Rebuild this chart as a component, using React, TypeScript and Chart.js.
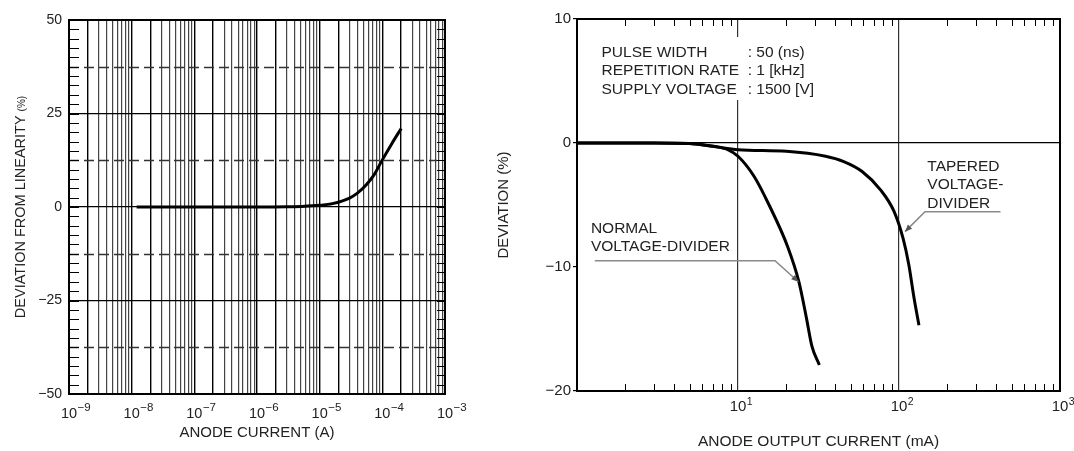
import React, { useEffect, useRef } from 'react';
import { Chart, registerables } from 'chart.js';

Chart.register(...registerables);

const FONT = "'Liberation Sans', Arial, Helvetica, sans-serif";
const TEXT = '#222';

// ---------- Left chart data ----------
const leftCurrentA = [1.2e-8, 1e-7, 1e-6, 3e-6, 5e-6, 1e-5, 1.6e-5, 3e-5, 4e-5, 5.6e-5, 7.5e-5, 9.7e-5, 1.4e-4, 2e-4];
const leftDeviationPct = [0, 0, 0, 0.05, 0.15, 0.45, 0.9, 2.4, 3.7, 6.0, 8.8, 12.2, 16.8, 21];
const leftYTicks = [-50, -25, 0, 25, 50];
const leftDashedY = [-37.5, -12.5, 12.5, 37.5];
const leftMinorYStep = 2.5;
const leftXMinExp = -9;
const leftXMaxExp = -3;

// ---------- Right chart data ----------
const normalCurrentMA = [1, 3, 5, 7, 8.7, 10, 12.6, 15.6, 20.4, 23.9, 26.6, 28.8, 32];
const normalDeviationPct = [0, 0, -0.05, -0.27, -0.55, -1.07, -2.7, -5.0, -8.4, -11.2, -14.1, -16.4, -17.9];
const taperedCurrentMA = [1, 3, 5, 7, 10, 20, 35, 45, 59, 77, 93, 106, 115, 124, 133];
const taperedDeviationPct = [0, 0, -0.05, -0.27, -0.54, -0.67, -1.07, -1.48, -2.3, -3.8, -5.5, -7.7, -9.8, -12.5, -14.7];
const rightYTicks = [-20, -10, 0, 10];
const rightXMinExp = 0;
const rightXMaxExp = 3;

const infoLabels = ['PULSE WIDTH', 'REPETITION RATE', 'SUPPLY VOLTAGE'];
const infoValues = ['50 (ns)', '1 [kHz]', '1500 [V]'];
const taperedLabel = ['TAPERED', 'VOLTAGE-', 'DIVIDER'];
const normalLabel = ['NORMAL', 'VOLTAGE-DIVIDER'];

// ---------- helpers ----------
const minus = (v: number) => String(v).replace('-', '\u2212');

function logTickValues(minExp: number, maxExp: number) {
  const out: number[] = [];
  for (let e = minExp; e < maxExp; e++) {
    for (let m = 1; m <= 9; m++) out.push(Number((m * Math.pow(10, e)).toPrecision(6)));
  }
  out.push(Math.pow(10, maxExp));
  return out;
}
function mantissa(v: number) {
  const e = Math.floor(Math.log10(v) + 1e-9);
  return { e, m: Math.round(v / Math.pow(10, e)) };
}

const leftXTicks = logTickValues(leftXMinExp, leftXMaxExp);
const rightXTicks = logTickValues(rightXMinExp, rightXMaxExp);

function drawFrame(chart: any) {
  const { ctx, chartArea: a } = chart;
  ctx.save();
  ctx.strokeStyle = '#000';
  ctx.lineWidth = 2;
  ctx.strokeRect(a.left, a.top, a.right - a.left, a.bottom - a.top);
  ctx.restore();
}

// decade labels "10" with a raised exponent, placed by the x scale
function drawDecadeLabels(
  chart: any,
  skipFirst: boolean,
  baseSize: number,
  expSize: number,
  baseY: number,
  expY: number,
) {
  const { ctx, scales } = chart;
  const xs = scales.x;
  ctx.save();
  ctx.fillStyle = TEXT;
  ctx.textBaseline = 'alphabetic';
  ctx.textAlign = 'left';
  xs.ticks.forEach((t: any, i: number) => {
    const { e, m } = mantissa(t.value);
    if (m !== 1) return;
    if (skipFirst && i === 0) return;
    const x = xs.getPixelForValue(t.value);
    ctx.font = `${baseSize}px ${FONT}`;
    const wb = ctx.measureText('10').width;
    const x0 = x - wb / 2;
    ctx.fillText('10', x0, xs.top + baseY);
    ctx.font = `${expSize}px ${FONT}`;
    ctx.fillText(minus(e), x0 + wb + 0.5, xs.top + expY);
  });
  ctx.restore();
}

const leftPlugin = {
  id: 'leftDecor',
  beforeDatasetsDraw(chart: any) {
    const { ctx, chartArea: a, scales } = chart;
    const y = scales.y;
    ctx.save();
    ctx.strokeStyle = '#333';
    ctx.lineWidth = 1.4;
    ctx.setLineDash([10, 5]);
    leftDashedY.forEach((v) => {
      const p = Math.round(y.getPixelForValue(v)) + 0.5;
      ctx.beginPath();
      ctx.moveTo(a.left, p);
      ctx.lineTo(a.right - 8, p);
      ctx.stroke();
    });
    ctx.setLineDash([]);
    ctx.strokeStyle = '#000';
    ctx.lineWidth = 1;
    for (let v = y.min; v <= y.max + 1e-9; v += leftMinorYStep) {
      const p = Math.round(y.getPixelForValue(v)) + 0.5;
      ctx.beginPath();
      ctx.moveTo(a.left, p);
      ctx.lineTo(a.left + 10, p);
      ctx.moveTo(a.right - 8, p);
      ctx.lineTo(a.right, p);
      ctx.stroke();
    }
    ctx.restore();
  },
  afterDatasetsDraw(chart: any) {
    drawFrame(chart);
    drawDecadeLabels(chart, false, 14.5, 11.5, 24, 16.5);
    const { ctx, chartArea: a } = chart;
    ctx.save();
    const main = 'DEVIATION FROM LINEARITY ';
    const small = '(%)';
    ctx.font = `14.5px ${FONT}`;
    const w1 = ctx.measureText(main).width;
    ctx.font = `10px ${FONT}`;
    const w2 = ctx.measureText(small).width;
    const cy = (a.top + a.bottom) / 2;
    ctx.translate(25, cy + (w1 + w2) / 2);
    ctx.rotate(-Math.PI / 2);
    ctx.fillStyle = TEXT;
    ctx.textBaseline = 'alphabetic';
    ctx.textAlign = 'left';
    ctx.font = `14.5px ${FONT}`;
    ctx.fillText(main, 0, 0);
    ctx.font = `10px ${FONT}`;
    ctx.fillText(small, w1, 0);
    ctx.restore();
  },
};

function drawLeader(ctx: any, pts: [number, number][]) {
  ctx.save();
  ctx.strokeStyle = '#8a8a8a';
  ctx.lineWidth = 1.6;
  ctx.beginPath();
  pts.forEach(([x, y], i) => (i === 0 ? ctx.moveTo(x, y) : ctx.lineTo(x, y)));
  ctx.stroke();
  const [x1, y1] = pts[pts.length - 2];
  const [x2, y2] = pts[pts.length - 1];
  const ang = Math.atan2(y2 - y1, x2 - x1);
  const L = 7, W = 3;
  ctx.fillStyle = '#555';
  ctx.beginPath();
  ctx.moveTo(x2, y2);
  ctx.lineTo(x2 - L * Math.cos(ang) + W * Math.sin(ang), y2 - L * Math.sin(ang) - W * Math.cos(ang));
  ctx.lineTo(x2 - L * Math.cos(ang) - W * Math.sin(ang), y2 - L * Math.sin(ang) + W * Math.cos(ang));
  ctx.closePath();
  ctx.fill();
  ctx.restore();
}

const rightPlugin = {
  id: 'rightDecor',
  beforeDatasetsDraw(chart: any) {
    const { ctx, chartArea: a, scales } = chart;
    const xs = scales.x, ys = scales.y;
    ctx.save();
    // white box behind the conditions text (breaks the 10 mA grid line)
    ctx.fillStyle = '#fff';
    const bx1 = xs.getPixelForValue(1.31), bx2 = xs.getPixelForValue(31.4);
    const by1 = ys.getPixelForValue(8.55), by2 = ys.getPixelForValue(3.47);
    ctx.fillRect(bx1, by1, bx2 - bx1, by2 - by1);
    // minor inner ticks top & bottom
    ctx.strokeStyle = '#000';
    ctx.lineWidth = 1;
    rightXTicks.forEach((v) => {
      const { m } = mantissa(v);
      if (m === 1) return;
      const p = Math.round(xs.getPixelForValue(v)) + 0.5;
      ctx.beginPath();
      ctx.moveTo(p, a.top);
      ctx.lineTo(p, a.top + 7);
      ctx.moveTo(p, a.bottom);
      ctx.lineTo(p, a.bottom - 7);
      ctx.stroke();
    });
    ctx.restore();
  },
  afterDatasetsDraw(chart: any) {
    drawFrame(chart);
    drawDecadeLabels(chart, true, 15, 10.5, 20, 14);
    const { ctx, scales } = chart;
    const xs = scales.x, ys = scales.y;
    const P = (x: number, y: number): [number, number] => [xs.getPixelForValue(x), ys.getPixelForValue(y)];
    ctx.save();
    ctx.fillStyle = TEXT;
    ctx.textBaseline = 'middle';
    ctx.textAlign = 'left';
    ctx.font = `15.5px ${FONT}`;
    const infoY = [7.28, 5.83, 4.33];
    infoLabels.forEach((t, i) => {
      ctx.fillText(t, ...P(1.42, infoY[i]));
      ctx.fillText(': ' + infoValues[i], ...P(11.49, infoY[i]));
    });
    const tapY = [-1.91, -3.39, -4.86];
    taperedLabel.forEach((t, i) => ctx.fillText(t, ...P(150, tapY[i])));
    const norY = [-6.88, -8.36];
    normalLabel.forEach((t, i) => ctx.fillText(t, ...P(1.22, norY[i])));
    ctx.restore();
    drawLeader(ctx, [P(427, -5.54), P(145, -5.54), P(109, -7.15)]);
    drawLeader(ctx, [P(1.29, -9.49), P(16.98, -9.49), P(23.7, -11.19)]);
  },
};

const lineStyle = {
  borderColor: '#000',
  borderWidth: 3,
  pointRadius: 0,
  fill: false,
  tension: 0.4,
  cubicInterpolationMode: 'monotone' as const,
};

export default function App() {
  const leftRef = useRef<HTMLCanvasElement>(null);
  const rightRef = useRef<HTMLCanvasElement>(null);

  useEffect(() => {
    const left = new Chart(leftRef.current!, {
      type: 'line',
      data: {
        datasets: [
          { ...lineStyle, data: leftCurrentA.map((x, i) => ({ x, y: leftDeviationPct[i] })) },
        ],
      },
      options: {
        responsive: false,
        animation: false,
        layout: { padding: { left: 0, top: 20, right: 35, bottom: 0 } },
        plugins: { legend: { display: false }, tooltip: { enabled: false } },
        scales: {
          x: {
            type: 'logarithmic',
            min: Math.pow(10, leftXMinExp),
            max: Math.pow(10, leftXMaxExp),
            afterBuildTicks: (s: any) => { s.ticks = leftXTicks.map((value) => ({ value })); },
            afterFit: (s: any) => { s.height = 57; },
            grid: {
              drawTicks: false,
              lineWidth: (c: any) => {
                const v = c.tick && c.tick.value;
                if (!v) return 1.2;
                return mantissa(v).m <= 2 ? 1.4 : 1.2;
              },
              color: (c: any) => {
                const v = c.tick && c.tick.value;
                if (!v) return '#444';
                return mantissa(v).m <= 2 ? '#000' : '#444';
              },
            },
            border: { display: false },
            ticks: { display: false, autoSkip: false },
            title: {
              display: true,
              text: 'ANODE CURRENT (A)',
              color: TEXT,
              font: { family: FONT, size: 15 },
              padding: { top: 0, bottom: 9 },
            },
          },
          y: {
            type: 'linear',
            min: -50,
            max: 50,
            afterBuildTicks: (s: any) => { s.ticks = leftYTicks.map((value) => ({ value })); },
            afterFit: (s: any) => { s.width = 69; },
            grid: { drawTicks: false, color: '#000', lineWidth: 1.3 },
            border: { display: false },
            ticks: {
              padding: 7,
              color: TEXT,
              font: { family: FONT, size: 14 },
              callback: (v: any) => minus(Number(v)),
            },
          },
        },
      } as any,
      plugins: [leftPlugin],
    });

    const right = new Chart(rightRef.current!, {
      type: 'line',
      data: {
        datasets: [
          { ...lineStyle, data: normalCurrentMA.map((x, i) => ({ x, y: normalDeviationPct[i] })) },
          { ...lineStyle, data: taperedCurrentMA.map((x, i) => ({ x, y: taperedDeviationPct[i] })) },
        ],
      },
      options: {
        responsive: false,
        animation: false,
        layout: { padding: { left: 0, top: 19, right: 14, bottom: 0 } },
        plugins: { legend: { display: false }, tooltip: { enabled: false } },
        scales: {
          x: {
            type: 'logarithmic',
            min: Math.pow(10, rightXMinExp),
            max: Math.pow(10, rightXMaxExp),
            afterBuildTicks: (s: any) => { s.ticks = rightXTicks.map((value) => ({ value })); },
            afterFit: (s: any) => { s.height = 60; },
            grid: {
              drawTicks: false,
              lineWidth: 1.2,
              color: (c: any) => {
                const v = c.tick && c.tick.value;
                return v === 10 || v === 100 ? '#333' : 'rgba(0,0,0,0)';
              },
            },
            border: { display: false },
            ticks: { display: false, autoSkip: false },
            title: {
              display: true,
              text: 'ANODE OUTPUT CURRENT (mA)',
              color: TEXT,
              font: { family: FONT, size: 15.5 },
              padding: { top: 0, bottom: 0 },
            },
          },
          y: {
            type: 'linear',
            min: -20,
            max: 10,
            afterBuildTicks: (s: any) => { s.ticks = rightYTicks.map((value) => ({ value })); },
            afterFit: (s: any) => { s.width = 97; },
            grid: {
              drawTicks: true,
              tickLength: 4,
              tickColor: '#000',
              lineWidth: 1.2,
              color: (c: any) => (c.tick && c.tick.value === 0 ? '#000' : 'rgba(0,0,0,0)'),
            },
            border: { display: false },
            ticks: {
              padding: 2,
              color: TEXT,
              font: { family: FONT, size: 15 },
              callback: (v: any) => minus(Number(v)),
            },
            title: {
              display: true,
              text: 'DEVIATION (%)',
              color: TEXT,
              font: { family: FONT, size: 15 },
              padding: { top: 14.5, bottom: 0 },
            },
          },
        },
      } as any,
      plugins: [rightPlugin],
    });

    return () => {
      left.destroy();
      right.destroy();
    };
  }, []);

  return (
    <div style={{ position: 'fixed', left: 0, top: 0, width: 1074, height: 451, background: '#fff' }}>
      <canvas ref={leftRef} width={480} height={451} style={{ position: 'absolute', left: 0, top: 0, width: 480, height: 451 }} />
      <canvas ref={rightRef} width={594} height={451} style={{ position: 'absolute', left: 480, top: 0, width: 594, height: 451 }} />
    </div>
  );
}
